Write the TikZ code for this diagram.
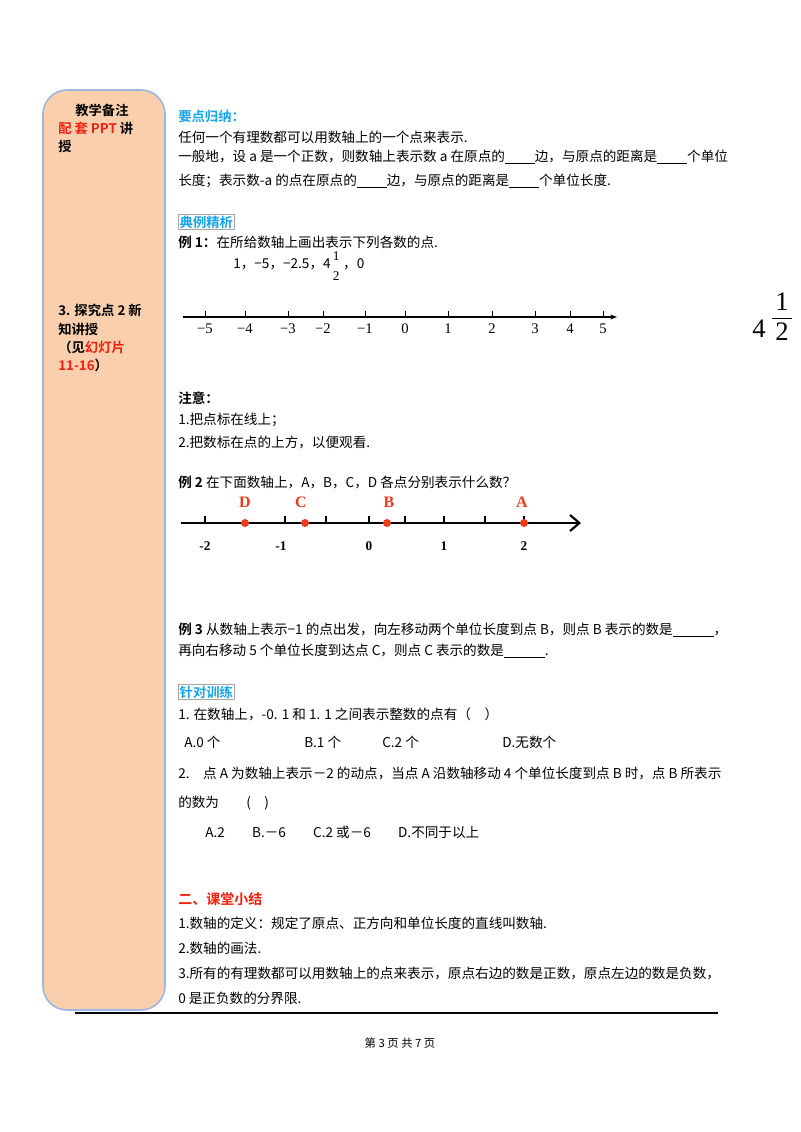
\documentclass[tikz,border=0pt]{standalone}
\usepackage{fontspec}
\setmainfont{Liberation Serif}
\newfontfamily\cjk{Noto Sans CJK SC}
\newfontfamily\cjkb{Noto Sans CJK SC Bold}
\usetikzlibrary{arrows.meta}
\definecolor{peach}{HTML}{F9CFAE}
\definecolor{edgeblue}{HTML}{9DB7E0}
\definecolor{hdblue}{HTML}{16A3E8}
\definecolor{redc}{HTML}{F02010}
\definecolor{dotc}{HTML}{EE3B1B}
\tikzset{
 txt/.style={anchor=west,inner sep=0pt,font=\cjk\fontsize{10.2}{12}\selectfont},
 hd/.style={anchor=west,inner sep=0pt,font=\cjkb\fontsize{10}{12}\selectfont,text=hdblue},
 side/.style={anchor=west,inner sep=0pt,font=\cjkb\fontsize{10}{12}\selectfont,align=left},
 tk/.style={line width=1pt},
 lab/.style={inner sep=0pt,font=\fontsize{10}{12}\selectfont},
 dot/.style={circle,fill=dotc,inner sep=0pt,minimum size=6pt},
 ptl/.style={inner sep=0pt,font=\bfseries\fontsize{12}{14}\selectfont,text=dotc}
}
\newcommand{\bl}{\underline{\hspace{2.2em}}}
\begin{document}
\begin{tikzpicture}[x=0.75pt,y=-0.75pt]
\useasboundingbox[fill=white] (0,0) rectangle (800,1132);
\draw[edgeblue,fill=peach,line width=1.2pt,rounded corners=18pt] (43,90) rectangle (165,1010);
\node[side] (s1) at (75,110) {教学备注};
\node[side] (s2) at (58,128) {\textcolor{redc}{配 套 PPT} 讲};
\node[side] (s3) at (58,146) {授};
\node[side] (s4) at (58,310) {3. 探究点 2 新};
\node[side] (s5) at (58,329) {知讲授};
\node[side] (s6) at (58,347) {（见\textcolor{redc}{幻灯片}};
\node[side] (s7) at (58,365) {\textcolor{redc}{11-16}）};

\node[hd] (h1) at (178,116) {要点归纳：};
\node[txt] (t1) at (178,137) {任何一个有理数都可以用数轴上的一个点来表示.};
\node[txt] (t2) at (178,157) {一般地，设 a 是一个正数，则数轴上表示数 a 在原点的\bl 边，与原点的距离是\bl 个单位};
\node[txt] (t3) at (178,181) {长度；表示数-a 的点在原点的\bl 边，与原点的距离是\bl 个单位长度.};
\node[hd,draw=gray!70,line width=0.5pt,inner sep=1pt] (h2) at (178,222) {典例精析};
\node[txt] (t4) at (178,242) {\cjkb 例 1：\cjk 在所给数轴上画出表示下列各数的点.};
\node[txt] (t5) at (233,264) {1，−5，−2.5，4};
\node[lab] (f1) at ([xshift=4pt,yshift=6pt]t5.east) {1};
\node[lab] (f2) at ([xshift=4pt,yshift=-9pt]t5.east) {2};
\node[txt] (t6) at ([xshift=9pt]t5.east) {，0};

\coordinate (a1s) at (183,317);
\coordinate (a1e) at (617,317);
\draw[line width=1.2pt,-{Stealth[length=5pt]}] (a1s) -- (a1e);
\foreach \x/\l in {205/−5,245/−4,288/−3,323/−2,365/−1,405/0,448/1,492/2,535/3,570/4,603/5}{
 \draw (\x,317) -- (\x,311);
 \node[lab,font=\fontsize{11}{12}\selectfont] at (\x,329) {\l};
}
\node[lab,font=\fontsize{20}{22}\selectfont] (big) at (759,329) {4};
\node[lab,font=\fontsize{20}{22}\selectfont] (bn) at (782,302) {1};
\draw (772,318) -- (792,318);
\node[lab,font=\fontsize{20}{22}\selectfont] (bd) at (782,332) {2};

\node[txt] (n0) at (178,398) {\cjkb 注意：};
\node[txt] (n1) at (178,420) {1.把点标在线上；};
\node[txt] (n2) at (178,442) {2.把数标在点的上方，以便观看.};
\node[txt] (e2) at (178,482) {\cjkb 例 2 \cjk 在下面数轴上，A，B，C，D 各点分别表示什么数？};

\coordinate (a2s) at (181,523);
\coordinate (a2e) at (581,523);
\draw[line width=1.6pt,-{Straight Barb[length=7pt,width=12pt]}] (a2s) -- (a2e);
\foreach \x in {205,285,326,369,405,444,485,524}{\draw[tk] (\x,523) -- (\x,516);}
\node[dot] (D) at (245,523) {}; \node[ptl] at (245,502) {D};
\node[dot] (C) at (305,523) {}; \node[ptl] at (301,502) {C};
\node[dot] (B) at (387,523) {}; \node[ptl] at (389,502) {B};
\node[dot] (A) at (524,523) {}; \node[ptl] at (522,502) {A};
\foreach \x/\l in {205/-2,281/-1,369/0,444/1,524/2}{
 \node[lab,font=\bfseries\fontsize{10}{12}\selectfont] at (\x,546) {\l};}

\node[txt] (e3) at (178,630) {\cjkb 例 3 \cjk 从数轴上表示−1 的点出发，向左移动两个单位长度到点 B，则点 B 表示的数是\underline{\hspace{3em}}，};
\node[txt] (e3b) at (178,651) {再向右移动 5 个单位长度到达点 C，则点 C 表示的数是\underline{\hspace{3em}}.};
\node[hd,draw=gray!70,line width=0.5pt,inner sep=1pt] (h3) at (178,692) {针对训练};
\node[txt] (q1) at (178,714) {1. 在数轴上，-0. 1 和 1. 1 之间表示整数的点有（　）};
\node[txt] (q1a) at (184,742) {A.0 个};
\node[txt] (q1b) at (304,742) {B.1 个};
\node[txt] (q1c) at (382,742) {C.2 个};
\node[txt] (q1d) at (502,742) {D.无数个};
\node[txt] (q2) at (178,773) {2.　点 A 为数轴上表示－2 的动点，当点 A 沿数轴移动 4 个单位长度到点 B 时，点 B 所表示};
\node[txt] (q2b) at (178,803) {的数为　　(　)};
\node[txt] (q2c) at (205,832) {A.2　　B.－6　　C.2 或－6　　D.不同于以上};

\node[txt,text=redc,font=\cjkb\fontsize{10.5}{12}\selectfont] (h4) at (178,899) {二、课堂小结};
\node[txt] (r1) at (178,923) {1.数轴的定义：规定了原点、正方向和单位长度的直线叫数轴.};
\node[txt] (r2) at (178,948) {2.数轴的画法.};
\node[txt] (r3) at (178,973) {3.所有的有理数都可以用数轴上的点来表示，原点右边的数是正数，原点左边的数是负数，};
\node[txt] (r4) at (178,998) {0 是正负数的分界限.};
\draw[line width=0.8pt] (75,1013) -- (718,1013);
\node[lab,font=\cjk\fontsize{8.5}{10}\selectfont] (ft) at (400,1043) {第 3 页 共 7 页};
\end{tikzpicture}
\end{document}
